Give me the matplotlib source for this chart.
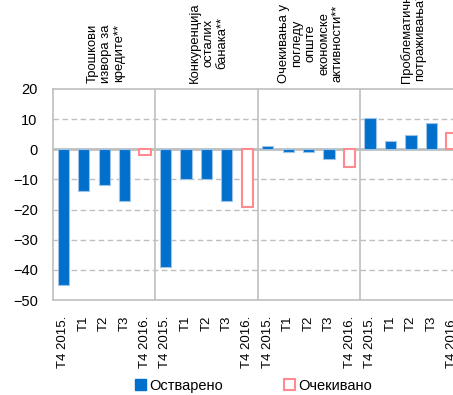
import numpy as np
import matplotlib.pyplot as plt
from matplotlib.patches import Patch

plt.rcParams['font.family'] = ['Liberation Sans', 'DejaVu Sans']

groups = ['Трошкови\nизвора за\nкредите**',
          'Конкуренција\nосталих\nбанака**',
          'Очекивања у\nпогледу\nопште\nекономске\nактивности**',
          'Проблематична\nпотраживања**']
periods = ['Т4 2015.', 'Т1', 'Т2', 'Т3', 'Т4 2016.']

# realised values for T4 2015 - T3, expected value for T4 2016
realised = [[-45, -14, -12, -17],
            [-39, -10, -10, -17],
            [1, -0.8, -0.8, -3.3],
            [10.4, 2.8, 4.7, 8.6]]
expected = [-2, -19, -6, 5.4]

blue = '#0070CC'
pink = '#FF8A8F'
grey = '#BFBFBF'

fig = plt.figure(figsize=(4.53, 3.95), dpi=100)
ax = fig.add_axes([0.117, 0.2405, 0.903, 0.5342])

n = len(periods)
w = 0.55
for g in range(len(groups)):
    x0 = g * n
    xs = np.arange(x0, x0 + n - 1)
    ax.bar(xs, realised[g], width=w, color=blue, edgecolor='#9DC3E6', linewidth=0.8, zorder=3)
    ax.bar(x0 + n - 1, expected[g], width=w, color='white', edgecolor=pink, linewidth=1.5, zorder=3)
    ax.text(x0 + 2.1, 1.028, groups[g], transform=ax.get_xaxis_transform(),
            rotation=90, ha='center', va='bottom', multialignment='center',
            fontsize=9.4, linespacing=1.15)

for g in range(1, len(groups)):
    ax.axvline(g * n - 0.5, color=grey, linewidth=1.2, zorder=1)
ax.axhline(0, color=grey, linewidth=2, zorder=2)

ax.set_xlim(-0.5, len(groups) * n - 0.5)
ax.set_ylim(-50, 20)
ax.set_yticks(np.arange(-50, 21, 10))
for yv in [10, -10, -20, -30, -40]:
    ax.axhline(yv, color=grey, linewidth=1, linestyle=(0, (4, 2.5)), zorder=1)

ax.set_xticks(np.arange(len(groups) * n))
ax.set_xticklabels(periods * len(groups), rotation=90, fontsize=9.5)
ax.tick_params(axis='y', length=0, labelsize=10.5, pad=11)
ax.tick_params(axis='x', length=0, pad=11, labelsize=9.5)
for s in ax.spines.values():
    s.set_color(grey)
    s.set_linewidth(1.2)
ax.spines['right'].set_visible(False)

handles = [Patch(facecolor=blue, edgecolor=blue),
           Patch(facecolor='white', edgecolor=pink, linewidth=1.5)]
fig.legend(handles, ['Остварено', 'Очекивано'], loc='center',
           bbox_to_anchor=(0.56, 0.024), ncol=2, frameon=False,
           fontsize=10.5, handlelength=0.75, handleheight=0.75,
           handletextpad=0.2, columnspacing=4.2)

fig.savefig('out.png', dpi=100)
